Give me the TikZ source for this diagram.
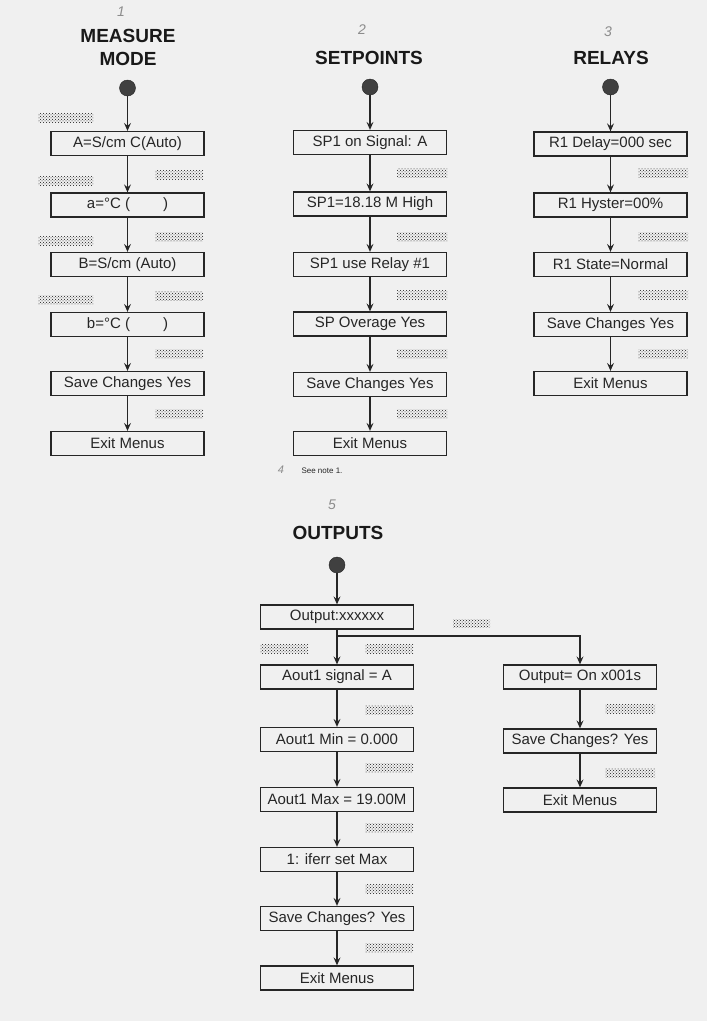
\documentclass[tikz,border=0pt]{standalone}
\usepackage{fontspec}
\setmainfont{Liberation Sans}
\usetikzlibrary{arrows.meta,patterns}
\begin{document}
\begin{tikzpicture}[x=1pt,y=-1pt,
  menubox/.style={draw=black!85, line width=1.3pt, minimum height=24pt, inner sep=0pt, font=\fontsize{15}{16}\selectfont, text=black!85},
  wbox/.style={menubox, minimum width=153pt},
  title/.style={font=\fontsize{19}{20}\selectfont\bfseries, text=black!90},
  startdot/.style={circle, fill=black!75, draw=black!85, minimum size=16pt, inner sep=0pt},
  flow/.style={draw=black!85, line width=1.1pt, -{Stealth[length=8pt,width=7pt,inset=3pt]}},
  hatchp/.style={pattern=crosshatch dots, pattern color=black!90},
  hand/.style={font=\fontsize{14}{14}\selectfont\itshape, text=black!45}
]
\useasboundingbox (0,0) rectangle (707,1021);
\fill[black!6] (0,0) rectangle (707,1021);

% ---------- MEASURE MODE ----------
\node[hand] (h1) at (121,12) {1};
\node[title] (t1a) at (128,36) {MEASURE};
\node[title] (t1b) at (128,59) {MODE};
\node[wbox] (m1) at (127.5,143.5) {A=S/cm C(Auto)};
\node[startdot] (s1) at (m1.center |- 0,88) {};
\node[wbox] (m2) at (127.5,205) {a=°C (\hspace{2.2em})};
\node[wbox] (m3) at (127.5,264.5) {B=S/cm (Auto)};
\node[wbox] (m4) at (127.5,324.5) {b=°C (\hspace{2.2em})};
\node[wbox] (m5) at (127.5,383.5) {Save Changes Yes};
\node[wbox] (m6) at (127.5,443.5) {Exit Menus};
\draw[flow] (s1) -- (m1);
\draw[flow] (m1) -- (m2);
\draw[flow] (m2) -- (m3);
\draw[flow] (m3) -- (m4);
\draw[flow] (m4) -- (m5);
\draw[flow] (m5) -- (m6);
\foreach \y in {118,181,241,300} \fill[hatchp] (38,\y-4.5) rectangle (93,\y+4.5);
\foreach \y in {175,237,296,354,414} \fill[hatchp] (155,\y-4.5) rectangle (203,\y+4.5);

% ---------- SETPOINTS ----------
\node[hand] (h2) at (362,30) {2};
\node[title] (t2) at (369,58) {SETPOINTS};
\node[wbox] (p1) at (370,142.5) {SP1 on Signal: A};
\node[startdot] (s2) at (p1.center |- 0,87) {};
\node[wbox] (p2) at (370,204) {SP1=18.18 M High};
\node[wbox] (p3) at (370,264.5) {SP1 use Relay \#1};
\node[wbox] (p4) at (370,324) {SP Overage Yes};
\node[wbox] (p5) at (370,384.5) {Save Changes Yes};
\node[wbox] (p6) at (370,443.5) {Exit Menus};
\draw[flow] (s2) -- (p1);
\draw[flow] (p1) -- (p2);
\draw[flow] (p2) -- (p3);
\draw[flow] (p3) -- (p4);
\draw[flow] (p4) -- (p5);
\draw[flow] (p5) -- (p6);
\foreach \y in {173,237,295,354,414} \fill[hatchp] (397,\y-4.5) rectangle (447,\y+4.5);
\node[hand, font=\fontsize{11}{11}\selectfont\itshape] (h4) at (281,470) {4};
\node[font=\fontsize{8}{9}\selectfont, text=black!85, anchor=west] (note) at (298,471) {See note 1.};

% ---------- RELAYS ----------
\node[hand] (h3) at (608,32) {3};
\node[title] (t3) at (611,58) {RELAYS};
\node[wbox] (r1) at (610.5,144) {R1 Delay=000 sec};
\node[startdot] (s3) at (r1.center |- 0,87) {};
\node[wbox] (r2) at (610.5,205) {R1 Hyster=00\%};
\node[wbox] (r3) at (610.5,264.5) {R1 State=Normal};
\node[wbox] (r4) at (610.5,324.5) {Save Changes Yes};
\node[wbox] (r5) at (610.5,383.5) {Exit Menus};
\draw[flow] (s3) -- (r1);
\draw[flow] (r1) -- (r2);
\draw[flow] (r2) -- (r3);
\draw[flow] (r3) -- (r4);
\draw[flow] (r4) -- (r5);
\foreach \y in {173,237,295,354} \fill[hatchp] (638,\y-4.5) rectangle (688,\y+4.5);

% ---------- OUTPUTS ----------
\node[hand] (h5) at (332,505) {5};
\node[title] (t5) at (338,533) {OUTPUTS};
\node[wbox] (o1) at (337,617) {Output:xxxxxx};
\node[startdot] (s5) at (o1.center |- 0,565) {};
\node[wbox] (o2) at (337,677) {Aout1 signal = A};
\node[wbox] (o3) at (337,739.5) {Aout1 Min = 0.000};
\node[wbox] (o4) at (337,799.5) {Aout1 Max = 19.00M};
\node[wbox] (o5) at (337,859.5) {1: iferr set Max};
\node[wbox] (o6) at (337,918.5) {Save Changes? Yes};
\node[wbox] (o7) at (337,978) {Exit Menus};
\node[wbox] (q1) at (580,677) {Output= On x001s};
\node[wbox] (q2) at (580,741) {Save Changes? Yes};
\node[wbox] (q3) at (580,800) {Exit Menus};
\draw[flow] (s5) -- (o1);
\draw[flow] (o1) -- (o2);
\coordinate (br) at (337,636);
\draw[flow] (br) -| (q1);
\draw[flow] (o2) -- (o3);
\draw[flow] (o3) -- (o4);
\draw[flow] (o4) -- (o5);
\draw[flow] (o5) -- (o6);
\draw[flow] (o6) -- (o7);
\draw[flow] (q1) -- (q2);
\draw[flow] (q2) -- (q3);
\fill[hatchp] (453,619) rectangle (490,627);
\fill[hatchp] (260,644.5) rectangle (308,653.5);
\fill[hatchp] (365,644.5) rectangle (413,653.5);
\foreach \y in {710,768,828,889,948} \fill[hatchp] (365,\y-4.5) rectangle (413,\y+4.5);
\foreach \y in {709,773} \fill[hatchp] (605,\y-4.5) rectangle (655,\y+4.5);
\end{tikzpicture}
\end{document}
